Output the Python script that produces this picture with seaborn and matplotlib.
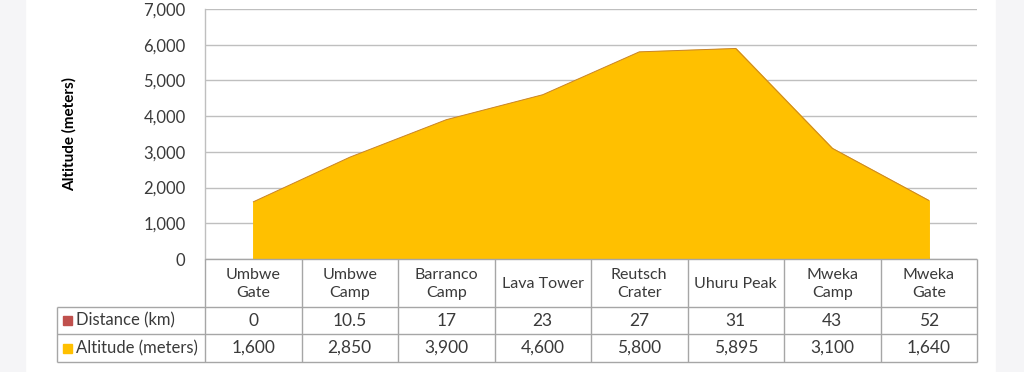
import numpy as np
import pandas as pd
import seaborn as sns
import matplotlib.pyplot as plt
from matplotlib.patches import Rectangle
from matplotlib.ticker import FuncFormatter

# data
camps = ["Umbwe\nGate", "Umbwe\nCamp", "Barranco\nCamp", "Lava Tower",
         "Reutsch\nCrater", "Uhuru Peak", "Mweka\nCamp", "Mweka\nGate"]
distance_km = [0, 10.5, 17, 23, 27, 31, 43, 52]
altitude_m = [1600, 2850, 3900, 4600, 5800, 5895, 3100, 1640]
y_ticks = [0, 1000, 2000, 3000, 4000, 5000, 6000, 7000]

alt_color = "#ffc000"
dist_color = "#c0504d"
grid_color = "#bfbfbf"
text_color = "#3a3a3a"

sns.set_theme(style="white")
plt.rcParams["font.family"] = ["Lato", "DejaVu Sans"]

W, H = 1024, 372
fig = plt.figure(figsize=(W / 100, H / 100), dpi=100, facecolor="white")

# faint grey margins left and right like the screenshot
fig.patches.append(Rectangle((0, 0), 25 / W, 1, transform=fig.transFigure,
                             color="#f5f5f7", zorder=0))
fig.patches.append(Rectangle((996 / W, 0), 1 - 996 / W, 1, transform=fig.transFigure,
                             color="#f5f5f7", zorder=0))

# plot area in pixels
px_l, px_r, px_t, px_b = 205, 977, 9, 259
ax = fig.add_axes([px_l / W, 1 - px_b / H, (px_r - px_l) / W, (px_b - px_t) / H])

df = pd.DataFrame({"x": np.arange(len(camps)), "alt": altitude_m, "dist": distance_km})
# distance sits behind the altitude area (it is tiny on this scale)
ax.fill_between(df["x"], df["dist"], color=dist_color, zorder=1)
ax.fill_between(df["x"], df["alt"], color=alt_color, zorder=2)
sns.lineplot(data=df, x="x", y="alt", ax=ax, color="#c8842a", linewidth=0.7, zorder=3)

ax.set_xlim(-0.5, len(camps) - 0.5)
ax.set_ylim(0, 7000)
ax.set_yticks(y_ticks)
ax.yaxis.set_major_formatter(FuncFormatter(lambda v, p: f"{int(v):,}"))
ax.set_xticks([])
ax.set_xlabel("")
ax.set_ylabel("Altitude (meters)", fontsize=11, fontweight="bold", color="black", labelpad=48)
ax.tick_params(axis="y", length=0, pad=14, labelsize=12, labelcolor=text_color)
ax.yaxis.grid(True, color=grid_color, linewidth=1)
ax.set_axisbelow(True)
for s in ["top", "right", "bottom"]:
    ax.spines[s].set_visible(False)
ax.spines["left"].set_color(grid_color)
ax.spines["left"].set_linewidth(1)

# data table below the chart, drawn in pixel coords
tab = fig.add_axes([0, 0, 1, 1], facecolor="none")
tab.set_xlim(0, W)
tab.set_ylim(H, 0)
tab.axis("off")
n = len(camps)
cw = (px_r - px_l) / n
row_y = [259, 307, 334, 362]
leg_l = 57
lc = "#a6a6a6"
tab.hlines(row_y[0], px_l, px_r, color=lc, lw=1)
for y in row_y[1:]:
    tab.hlines(y, leg_l, px_r, color=lc, lw=1)
tab.vlines(leg_l, row_y[1], row_y[3], color=lc, lw=1)
for k in range(n + 1):
    tab.vlines(px_l + k * cw, row_y[0], row_y[3], color=lc, lw=1)

for i, name in enumerate(camps):
    cx = px_l + (i + 0.5) * cw
    tab.text(cx, (row_y[0] + row_y[1]) / 2 + 1, name, ha="center", va="center",
             fontsize=11.5, color=text_color, linespacing=1.35)
    tab.text(cx, (row_y[1] + row_y[2]) / 2, f"{distance_km[i]:g}", ha="center",
             va="center", fontsize=12.5, color=text_color)
    tab.text(cx, (row_y[2] + row_y[3]) / 2, f"{altitude_m[i]:,}", ha="center",
             va="center", fontsize=12.5, color=text_color)

for (label, col), (y0, y1) in zip([("Distance (km)", dist_color), ("Altitude (meters)", alt_color)],
                                  [(row_y[1], row_y[2]), (row_y[2], row_y[3])]):
    cy = (y0 + y1) / 2
    tab.add_patch(Rectangle((63, cy - 4.5), 9, 9, color=col))
    tab.text(76, cy, label, ha="left", va="center", fontsize=12, color=text_color)

fig.savefig("out.png", dpi=100, facecolor=fig.get_facecolor())
